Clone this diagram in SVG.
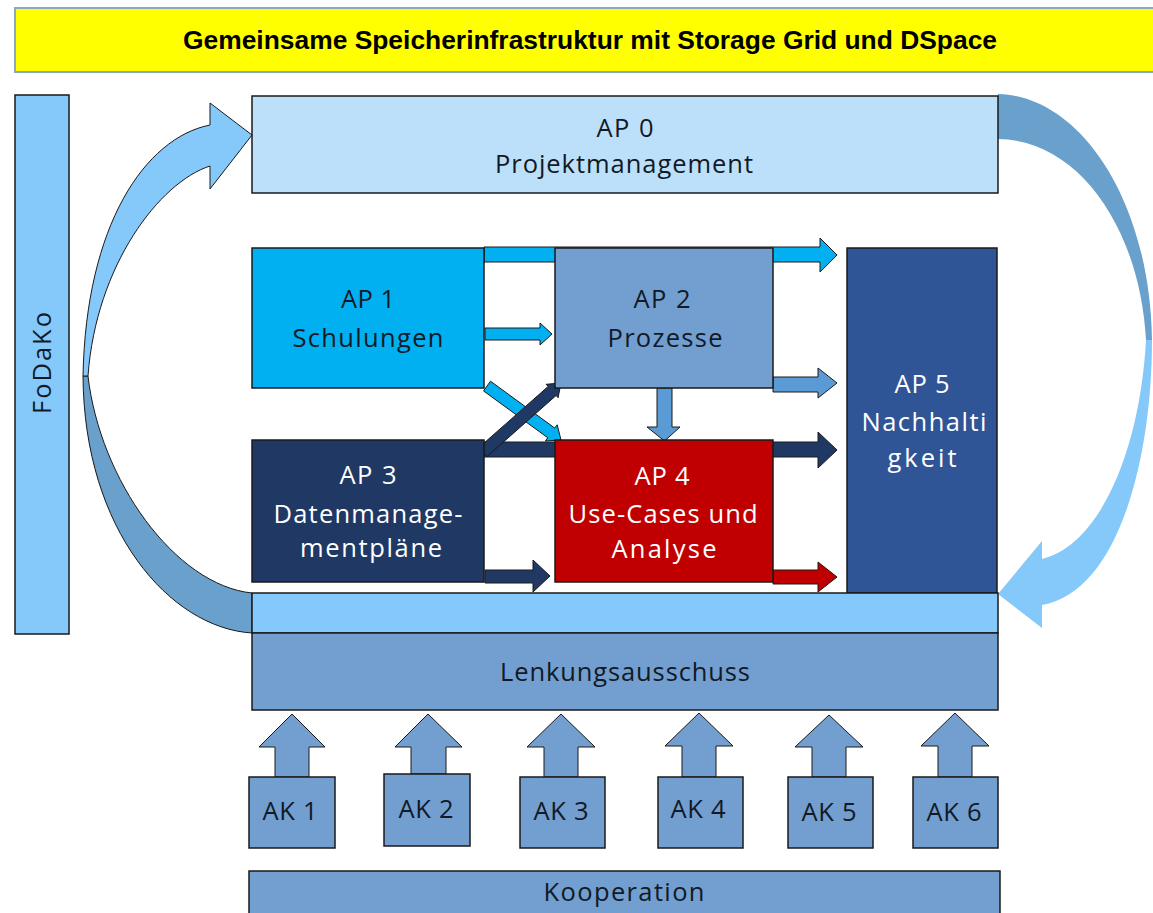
<svg xmlns="http://www.w3.org/2000/svg" width="1153" height="913" viewBox="0 0 1153 913">
<style>
.box{stroke:#1a1a1a;stroke-width:1.5}
.arr{stroke:#1a1a1a;stroke-width:1;stroke-linejoin:miter}
.t{font-family:"Open Sans","Noto Sans",sans-serif;font-size:25.5px;text-anchor:middle}
.dk{fill:#111a26}
.wh{fill:#ffffff}
.title{font-family:"Liberation Sans",Arial,sans-serif;font-weight:bold;font-size:25px;text-anchor:middle;fill:#000}
</style>
<rect width="1153" height="913" fill="#ffffff"/>

<g id="banner">
<rect x="15" y="8" width="1150" height="64" fill="#ffff00" stroke="#8ea6c4" stroke-width="2"/>
<text class="title" x="590" y="49" textLength="814" lengthAdjust="spacingAndGlyphs">Gemeinsame Speicherinfrastruktur mit Storage Grid und DSpace</text>
</g>

<g id="fodako">
<rect class="box" x="15" y="95" width="54" height="539" fill="#85c8fa"/>
<text class="t dk" transform="translate(51,363) rotate(-90)" textLength="102" lengthAdjust="spacing">FoDaKo</text>
</g>

<g id="connectors">
<!-- left curved arrow -->
<path class="arr" fill="#6aa0cc" d="M83,376 C84,530 170,628 252,633 L252,593 C175,585 100,480 88,376 Z"/>
<path class="arr" fill="#85c8fa" d="M252,135 L210,103 L210,125 C145,138 86,225 83,376 L88,376 C96,265 160,182 210,166 L210,189 Z"/>
<!-- right curved arrow -->
<path fill="#6aa0cc" d="M998,94 C1080,96 1150,200 1152,340 L1146,340 C1140,230 1080,140 998,139 Z"/>
<path fill="#85c8fa" d="M1152,340 C1152,460 1118,592 1042,605 L1042,628 L998,594 L1042,541 L1042,559 C1100,545 1140,450 1146,340 Z"/>
<!-- long arrows behind AP2 / AP4 -->
<polygon class="arr" fill="#00b0f0" points="484,247 820,247 820,238 837,255 820,272 820,262 484,262"/>
<polygon class="arr" fill="#203864" points="484,442 818,442 818,432 837,450 818,468 818,457 484,457"/>
<!-- short arrows -->
<polygon class="arr" fill="#00b0f0" points="485,328 540,328 540,323 552,334 540,345 540,340 485,340"/>
<polygon class="arr" fill="#5b9bd5" points="773,377 818,377 818,368 837,383 818,398 818,392 773,392"/>
<polygon class="arr" fill="#5b9bd5" points="657,388 672,388 672,427 680,427 664.5,441 647,427 657,427"/>
<polygon class="arr" fill="#203864" points="485,570 533,570 533,560 550,576 533,592 533,583 485,583"/>
<polygon class="arr" fill="#c00000" points="773,570 818,570 818,562 837,577 818,592 818,584 773,584"/>
<!-- diagonals -->
<polygon class="arr" fill="#00b0f0" points="483.5,390.9 547.8,437.8 545.4,441 561,440 557.2,424.8 554.8,428.1 490.5,381.2"/>
<polygon class="arr" fill="#203864" points="487,456.5 556.1,395.5 558.1,397.7 561,383 546.1,384.3 548.1,386.5 479,447.5"/>
<!-- AK up arrows -->
<polygon class="arr" fill="#729fcf" points="292,714 325,747 309,747 309,777 275,777 275,747 259,747"/>
<polygon class="arr" fill="#729fcf" points="428,714 462,747 446,747 446,774 411,774 411,747 395,747"/>
<polygon class="arr" fill="#729fcf" points="561,714 595,747 578,747 578,777 544,777 544,747 527,747"/>
<polygon class="arr" fill="#729fcf" points="699,713 733,746 716,746 716,777 682,777 682,746 665,746"/>
<polygon class="arr" fill="#729fcf" points="829,715 863,747 846,747 846,777 812,777 812,747 795,747"/>
<polygon class="arr" fill="#729fcf" points="955,713 989,746 972,746 972,777 938,777 938,746 921,746"/>
</g>

<g id="ap0">
<rect class="box" x="252" y="96" width="746" height="97" fill="#bde0fa"/>
<text class="t dk" x="625" y="137" textLength="57" lengthAdjust="spacing">AP 0</text>
<text class="t dk" x="624" y="173" textLength="258" lengthAdjust="spacing">Projektmanagement</text>
</g>

<g id="ap1">
<rect class="box" x="252" y="248" width="232" height="140" fill="#00b0f0"/>
<text class="t dk" x="368" y="308" textLength="54" lengthAdjust="spacing">AP 1</text>
<text class="t dk" x="368" y="347" textLength="151" lengthAdjust="spacing">Schulungen</text>
</g>

<g id="ap2">
<rect class="box" x="555" y="248" width="218" height="140" fill="#729fcf"/>
<text class="t dk" x="662" y="308" textLength="57" lengthAdjust="spacing">AP 2</text>
<text class="t dk" x="665" y="347" textLength="115" lengthAdjust="spacing">Prozesse</text>
</g>

<g id="ap3">
<rect class="box" x="252" y="440" width="232" height="142" fill="#203864"/>
<text class="t wh" x="368" y="484" textLength="57" lengthAdjust="spacing">AP 3</text>
<text class="t wh" x="368" y="523" textLength="189" lengthAdjust="spacing">Datenmanage-</text>
<text class="t wh" x="371" y="557" textLength="142" lengthAdjust="spacing">mentpläne</text>
</g>

<g id="ap4">
<rect class="box" x="555" y="440" width="218" height="142" fill="#c00000"/>
<text class="t wh" x="662" y="485" textLength="55" lengthAdjust="spacing">AP 4</text>
<text class="t wh" x="663" y="523" textLength="189" lengthAdjust="spacing">Use-Cases und</text>
<text class="t wh" x="664" y="558" textLength="105" lengthAdjust="spacing">Analyse</text>
</g>

<g id="ap5">
<rect class="box" x="847" y="248" width="150" height="345" fill="#2f5597"/>
<text class="t wh" x="922" y="393" textLength="55" lengthAdjust="spacing">AP 5</text>
<text class="t wh" x="924" y="431" textLength="125" lengthAdjust="spacing">Nachhalti</text>
<text class="t wh" x="922" y="467" textLength="69" lengthAdjust="spacing">gkeit</text>
</g>

<g id="bar">
<rect class="box" x="252" y="593" width="746" height="40" fill="#85c8fc"/>
</g>

<g id="lenkung">
<rect class="box" x="252" y="633" width="746" height="77" fill="#729fcf"/>
<text class="t dk" x="625" y="681" textLength="250" lengthAdjust="spacing">Lenkungsausschuss</text>
</g>

<g id="ak1"><rect class="box" x="249" y="777" width="86" height="71" fill="#729fcf"/><text class="t dk" x="290" y="820" textLength="55" lengthAdjust="spacing">AK 1</text></g>
<g id="ak2"><rect class="box" x="384" y="774" width="86" height="72" fill="#729fcf"/><text class="t dk" x="426" y="818" textLength="55" lengthAdjust="spacing">AK 2</text></g>
<g id="ak3"><rect class="box" x="520" y="777" width="85" height="71" fill="#729fcf"/><text class="t dk" x="561" y="820" textLength="55" lengthAdjust="spacing">AK 3</text></g>
<g id="ak4"><rect class="box" x="658" y="777" width="85" height="71" fill="#729fcf"/><text class="t dk" x="698" y="818" textLength="55" lengthAdjust="spacing">AK 4</text></g>
<g id="ak5"><rect class="box" x="788" y="777" width="85" height="71" fill="#729fcf"/><text class="t dk" x="829" y="821" textLength="55" lengthAdjust="spacing">AK 5</text></g>
<g id="ak6"><rect class="box" x="913" y="777" width="85" height="71" fill="#729fcf"/><text class="t dk" x="954" y="821" textLength="55" lengthAdjust="spacing">AK 6</text></g>

<g id="kooperation">
<rect class="box" x="249" y="871" width="751" height="60" fill="#729fcf"/>
<text class="t dk" x="624" y="901" textLength="161" lengthAdjust="spacing">Kooperation</text>
</g>
</svg>
